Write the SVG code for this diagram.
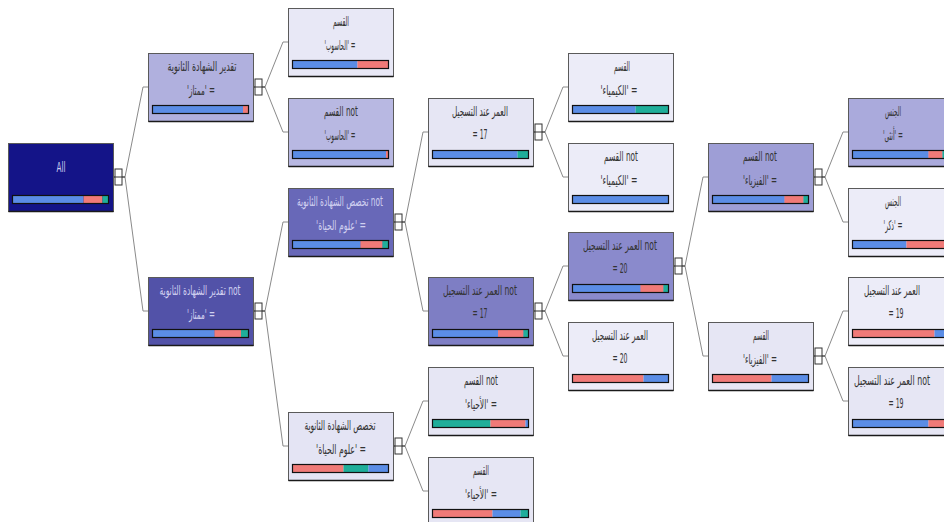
<svg xmlns="http://www.w3.org/2000/svg" width="944" height="522" viewBox="0 0 944 522">
<style>
.bg{fill:#ffffff}
.nd{stroke:#5a5a5a;stroke-width:1}
.sh{stroke:#1a1a1a;stroke-width:1.5}
.t{font-family:"DejaVu Sans Condensed","DejaVu Sans",sans-serif;font-size:13.5px;text-anchor:middle;fill:#333333}
.tl{fill:#d0d0f0}
.bar{fill:none;stroke:#111111;stroke-width:1.2}
.b{fill:#5b8de6}
.r{fill:#f07a78}
.g{fill:#1fae9a}
.cn{fill:none;stroke:#8a8a8a;stroke-width:1}
.tg rect{fill:#ffffff;stroke:#333333;stroke-width:1}
.tg line{stroke:#333333;stroke-width:1}
</style>
<rect class="bg" x="0" y="0" width="944" height="522"/>
<g id="connectors">
<path class="cn" d="M113,177 H125 L143,87 H148 M125,177 L143,311 H148"/>
<path class="cn" d="M253,87 H265 L283,42 H288 M265,87 L283,132 H288"/>
<path class="cn" d="M253,311 H265 L283,222 H288 M265,311 L283,446 H288"/>
<path class="cn" d="M393,222 H405 L423,132 H428 M405,222 L423,311 H428"/>
<path class="cn" d="M393,446 H405 L423,401 H428 M405,446 L423,491 H428"/>
<path class="cn" d="M533,132 H545 L563,87 H568 M545,132 L563,177 H568"/>
<path class="cn" d="M533,311 H545 L563,266 H568 M545,311 L563,356 H568"/>
<path class="cn" d="M673,266 H685 L703,177 H708 M685,266 L703,356 H708"/>
<path class="cn" d="M813,177 H825 L843,132 H848 M825,177 L843,222 H848"/>
<path class="cn" d="M813,356 H825 L843,311 H848 M825,356 L843,401 H848"/>
<g class="tg"><rect x="115" y="169" width="7" height="16"/><line x1="113" y1="177" x2="125" y2="177"/></g>
<g class="tg"><rect x="255" y="79" width="7" height="16"/><line x1="253" y1="87" x2="265" y2="87"/></g>
<g class="tg"><rect x="255" y="303" width="7" height="16"/><line x1="253" y1="311" x2="265" y2="311"/></g>
<g class="tg"><rect x="395" y="214" width="7" height="16"/><line x1="393" y1="222" x2="405" y2="222"/></g>
<g class="tg"><rect x="395" y="438" width="7" height="16"/><line x1="393" y1="446" x2="405" y2="446"/></g>
<g class="tg"><rect x="535" y="124" width="7" height="16"/><line x1="533" y1="132" x2="545" y2="132"/></g>
<g class="tg"><rect x="535" y="303" width="7" height="16"/><line x1="533" y1="311" x2="545" y2="311"/></g>
<g class="tg"><rect x="675" y="258" width="7" height="16"/><line x1="673" y1="266" x2="685" y2="266"/></g>
<g class="tg"><rect x="815" y="169" width="7" height="16"/><line x1="813" y1="177" x2="825" y2="177"/></g>
<g class="tg"><rect x="815" y="348" width="7" height="16"/><line x1="813" y1="356" x2="825" y2="356"/></g>
</g>

<g id="root">
<rect class="nd" x="8.5" y="143.5" width="105" height="68" fill="#141488"/>
<line class="sh" x1="8.5" y1="211.5" x2="113.5" y2="211.5"/>
<text class="t tl" x="61" y="172" textLength="9" lengthAdjust="spacingAndGlyphs">All</text>
<rect class="b" x="13" y="196" width="70.5" height="7"/><rect class="r" x="83.5" y="196" width="19" height="7"/><rect class="g" x="102.5" y="196" width="5.5" height="7"/>
<rect class="bar" x="12.5" y="195.5" width="96" height="8"/>
</g>

<g id="n_mumtaz">
<rect class="nd" x="148.5" y="53.5" width="105" height="68" fill="#b0b0de"/>
<line class="sh" x1="148.5" y1="121.5" x2="253.5" y2="121.5"/>
<text class="t" x="202" y="71" direction="rtl" textLength="69" lengthAdjust="spacingAndGlyphs">تقدير الشهادة الثانوية</text>
<text class="t" x="201" y="95" direction="rtl" textLength="28" lengthAdjust="spacingAndGlyphs">= 'ممتاز'</text>
<rect class="b" x="153" y="106" width="90" height="7"/><rect class="r" x="243" y="106" width="5" height="7"/>
<rect class="bar" x="152.5" y="105.5" width="96" height="8"/>
</g>

<g id="n_not_mumtaz">
<rect class="nd" x="148.5" y="277.5" width="105" height="68" fill="#5252a8"/>
<line class="sh" x1="148.5" y1="345.5" x2="253.5" y2="345.5"/>
<text class="t tl" x="200" y="295" direction="rtl" textLength="81" lengthAdjust="spacingAndGlyphs">not تقدير الشهادة الثانوية</text>
<text class="t tl" x="201" y="319" direction="rtl" textLength="28" lengthAdjust="spacingAndGlyphs">= 'ممتاز'</text>
<rect class="b" x="153" y="330" width="61.5" height="7"/><rect class="r" x="214.5" y="330" width="26.5" height="7"/><rect class="g" x="241" y="330" width="7" height="7"/>
<rect class="bar" x="152.5" y="329.5" width="96" height="8"/>
</g>

<g id="n_hasoob">
<rect class="nd" x="288.5" y="8.5" width="105" height="68" fill="#e8e8f6"/>
<line class="sh" x1="288.5" y1="76.5" x2="393.5" y2="76.5"/>
<text class="t" x="341" y="26" direction="rtl" textLength="16" lengthAdjust="spacingAndGlyphs">القسم</text>
<text class="t" x="340" y="50" direction="rtl" textLength="31" lengthAdjust="spacingAndGlyphs">= 'الحاسوب'</text>
<rect class="b" x="293" y="61" width="64.5" height="7"/><rect class="r" x="357.5" y="61" width="30.5" height="7"/>
<rect class="bar" x="292.5" y="60.5" width="96" height="8"/>
</g>

<g id="n_not_hasoob">
<rect class="nd" x="288.5" y="98.5" width="105" height="68" fill="#b8b8e2"/>
<line class="sh" x1="288.5" y1="166.5" x2="393.5" y2="166.5"/>
<text class="t" x="341" y="116" direction="rtl" textLength="34" lengthAdjust="spacingAndGlyphs">not القسم</text>
<text class="t" x="340" y="140" direction="rtl" textLength="31" lengthAdjust="spacingAndGlyphs">= 'الحاسوب'</text>
<rect class="b" x="293" y="151" width="93" height="7"/><rect class="r" x="386" y="151" width="2" height="7"/>
<rect class="bar" x="292.5" y="150.5" width="96" height="8"/>
</g>

<g id="n_not_takhassus">
<rect class="nd" x="288.5" y="188.5" width="105" height="68" fill="#6868b8"/>
<line class="sh" x1="288.5" y1="256.5" x2="393.5" y2="256.5"/>
<text class="t tl" x="340" y="206" direction="rtl" textLength="86" lengthAdjust="spacingAndGlyphs">not تخصص الشهادة الثانوية</text>
<text class="t tl" x="341" y="230" direction="rtl" textLength="50" lengthAdjust="spacingAndGlyphs">= 'علوم الحياة'</text>
<rect class="b" x="293" y="241" width="67.5" height="7"/><rect class="r" x="360.5" y="241" width="22" height="7"/><rect class="g" x="382.5" y="241" width="5.5" height="7"/>
<rect class="bar" x="292.5" y="240.5" width="96" height="8"/>
</g>

<g id="n_takhassus">
<rect class="nd" x="288.5" y="412.5" width="105" height="68" fill="#e4e4f4"/>
<line class="sh" x1="288.5" y1="480.5" x2="393.5" y2="480.5"/>
<text class="t" x="340" y="430" direction="rtl" textLength="71" lengthAdjust="spacingAndGlyphs">تخصص الشهادة الثانوية</text>
<text class="t" x="341" y="454" direction="rtl" textLength="50" lengthAdjust="spacingAndGlyphs">= 'علوم الحياة'</text>
<rect class="r" x="293" y="465" width="50.5" height="7"/><rect class="g" x="343.5" y="465" width="25" height="7"/><rect class="b" x="368.5" y="465" width="19.5" height="7"/>
<rect class="bar" x="292.5" y="464.5" width="96" height="8"/>
</g>

<g id="n_age17">
<rect class="nd" x="428.5" y="98.5" width="105" height="68" fill="#e6e6f4"/>
<line class="sh" x1="428.5" y1="166.5" x2="533.5" y2="166.5"/>
<text class="t" x="480" y="116" direction="rtl" textLength="56" lengthAdjust="spacingAndGlyphs">العمر عند التسجيل</text>
<text class="t" x="480" y="139" textLength="15" lengthAdjust="spacingAndGlyphs">= 17</text>
<rect class="b" x="433" y="151" width="84.5" height="7"/><rect class="g" x="517.5" y="151" width="10.5" height="7"/>
<rect class="bar" x="432.5" y="150.5" width="96" height="8"/>
</g>

<g id="n_not_age17">
<rect class="nd" x="428.5" y="277.5" width="105" height="68" fill="#7e7ec4"/>
<line class="sh" x1="428.5" y1="345.5" x2="533.5" y2="345.5"/>
<text class="t" x="480" y="295" direction="rtl" textLength="74" lengthAdjust="spacingAndGlyphs">not العمر عند التسجيل</text>
<text class="t" x="480" y="318" textLength="15" lengthAdjust="spacingAndGlyphs">= 17</text>
<rect class="b" x="433" y="330" width="65" height="7"/><rect class="r" x="498" y="330" width="25.5" height="7"/><rect class="g" x="523.5" y="330" width="4.5" height="7"/>
<rect class="bar" x="432.5" y="329.5" width="96" height="8"/>
</g>

<g id="n_not_ahyaa">
<rect class="nd" x="428.5" y="367.5" width="105" height="68" fill="#e6e6f4"/>
<line class="sh" x1="428.5" y1="435.5" x2="533.5" y2="435.5"/>
<text class="t" x="481" y="385" direction="rtl" textLength="34" lengthAdjust="spacingAndGlyphs">not القسم</text>
<text class="t" x="481" y="409" direction="rtl" textLength="32" lengthAdjust="spacingAndGlyphs">= 'الأحياء'</text>
<rect class="g" x="433" y="420" width="57.5" height="7"/><rect class="r" x="490.5" y="420" width="35" height="7"/><rect class="b" x="525.5" y="420" width="2.5" height="7"/>
<rect class="bar" x="432.5" y="419.5" width="96" height="8"/>
</g>

<g id="n_ahyaa">
<rect class="nd" x="428.5" y="457.5" width="105" height="68" fill="#e6e6f4"/>
<line class="sh" x1="428.5" y1="525.5" x2="533.5" y2="525.5"/>
<text class="t" x="481" y="475" direction="rtl" textLength="16" lengthAdjust="spacingAndGlyphs">القسم</text>
<text class="t" x="481" y="499" direction="rtl" textLength="32" lengthAdjust="spacingAndGlyphs">= 'الأحياء'</text>
<rect class="r" x="433" y="510" width="59.5" height="7"/><rect class="b" x="492.5" y="510" width="28" height="7"/><rect class="g" x="520.5" y="510" width="7.5" height="7"/>
<rect class="bar" x="432.5" y="509.5" width="96" height="8"/>
</g>

<g id="n_kimyaa">
<rect class="nd" x="568.5" y="53.5" width="105" height="68" fill="#ececf8"/>
<line class="sh" x1="568.5" y1="121.5" x2="673.5" y2="121.5"/>
<text class="t" x="622" y="71" direction="rtl" textLength="16" lengthAdjust="spacingAndGlyphs">القسم</text>
<text class="t" x="619" y="95" direction="rtl" textLength="37" lengthAdjust="spacingAndGlyphs">= 'الكيمياء'</text>
<rect class="b" x="573" y="106" width="62.5" height="7"/><rect class="g" x="635.5" y="106" width="32.5" height="7"/>
<rect class="bar" x="572.5" y="105.5" width="96" height="8"/>
</g>

<g id="n_not_kimyaa">
<rect class="nd" x="568.5" y="143.5" width="105" height="68" fill="#ececf8"/>
<line class="sh" x1="568.5" y1="211.5" x2="673.5" y2="211.5"/>
<text class="t" x="621" y="161" direction="rtl" textLength="34" lengthAdjust="spacingAndGlyphs">not القسم</text>
<text class="t" x="619" y="185" direction="rtl" textLength="37" lengthAdjust="spacingAndGlyphs">= 'الكيمياء'</text>
<rect class="b" x="573" y="196" width="95" height="7"/>
<rect class="bar" x="572.5" y="195.5" width="96" height="8"/>
</g>

<g id="n_not_age20">
<rect class="nd" x="568.5" y="232.5" width="105" height="68" fill="#8a8acc"/>
<line class="sh" x1="568.5" y1="300.5" x2="673.5" y2="300.5"/>
<text class="t" x="620" y="250" direction="rtl" textLength="74" lengthAdjust="spacingAndGlyphs">not العمر عند التسجيل</text>
<text class="t" x="620" y="273" textLength="15" lengthAdjust="spacingAndGlyphs">= 20</text>
<rect class="b" x="573" y="285" width="67.5" height="7"/><rect class="r" x="640.5" y="285" width="23" height="7"/><rect class="g" x="663.5" y="285" width="4.5" height="7"/>
<rect class="bar" x="572.5" y="284.5" width="96" height="8"/>
</g>

<g id="n_age20">
<rect class="nd" x="568.5" y="322.5" width="105" height="68" fill="#ececf8"/>
<line class="sh" x1="568.5" y1="390.5" x2="673.5" y2="390.5"/>
<text class="t" x="620" y="340" direction="rtl" textLength="56" lengthAdjust="spacingAndGlyphs">العمر عند التسجيل</text>
<text class="t" x="620" y="363" textLength="15" lengthAdjust="spacingAndGlyphs">= 20</text>
<rect class="r" x="573" y="375" width="70.5" height="7"/><rect class="b" x="643.5" y="375" width="24.5" height="7"/>
<rect class="bar" x="572.5" y="374.5" width="96" height="8"/>
</g>

<g id="n_not_fizyaa">
<rect class="nd" x="708.5" y="143.5" width="105" height="68" fill="#9e9ed6"/>
<line class="sh" x1="708.5" y1="211.5" x2="813.5" y2="211.5"/>
<text class="t" x="760" y="161" direction="rtl" textLength="34" lengthAdjust="spacingAndGlyphs">not القسم</text>
<text class="t" x="760" y="185" direction="rtl" textLength="34" lengthAdjust="spacingAndGlyphs">= 'الفيزياء'</text>
<rect class="b" x="713" y="196" width="71.5" height="7"/><rect class="r" x="784.5" y="196" width="19" height="7"/><rect class="g" x="803.5" y="196" width="4.5" height="7"/>
<rect class="bar" x="712.5" y="195.5" width="96" height="8"/>
</g>

<g id="n_fizyaa">
<rect class="nd" x="708.5" y="322.5" width="105" height="68" fill="#e6e6f4"/>
<line class="sh" x1="708.5" y1="390.5" x2="813.5" y2="390.5"/>
<text class="t" x="761" y="340" direction="rtl" textLength="16" lengthAdjust="spacingAndGlyphs">القسم</text>
<text class="t" x="760" y="364" direction="rtl" textLength="34" lengthAdjust="spacingAndGlyphs">= 'الفيزياء'</text>
<rect class="r" x="713" y="375" width="58.5" height="7"/><rect class="b" x="771.5" y="375" width="36.5" height="7"/>
<rect class="bar" x="712.5" y="374.5" width="96" height="8"/>
</g>

<g id="n_untha">
<rect class="nd" x="848.5" y="98.5" width="105" height="68" fill="#aaaadc"/>
<line class="sh" x1="848.5" y1="166.5" x2="953.5" y2="166.5"/>
<text class="t" x="893" y="116" direction="rtl" textLength="16" lengthAdjust="spacingAndGlyphs">الجنس</text>
<text class="t" x="893" y="140" direction="rtl" textLength="20" lengthAdjust="spacingAndGlyphs">= 'أنثى'</text>
<rect class="b" x="853" y="151" width="75.5" height="7"/><rect class="r" x="928.5" y="151" width="14" height="7"/><rect class="g" x="942.5" y="151" width="5.5" height="7"/>
<rect class="bar" x="852.5" y="150.5" width="96" height="8"/>
</g>

<g id="n_thakar">
<rect class="nd" x="848.5" y="188.5" width="105" height="68" fill="#ececf8"/>
<line class="sh" x1="848.5" y1="256.5" x2="953.5" y2="256.5"/>
<text class="t" x="893" y="206" direction="rtl" textLength="16" lengthAdjust="spacingAndGlyphs">الجنس</text>
<text class="t" x="893" y="230" direction="rtl" textLength="19" lengthAdjust="spacingAndGlyphs">= 'ذكر'</text>
<rect class="b" x="853" y="241" width="53.5" height="7"/><rect class="r" x="906.5" y="241" width="41.5" height="7"/>
<rect class="bar" x="852.5" y="240.5" width="96" height="8"/>
</g>

<g id="n_age19">
<rect class="nd" x="848.5" y="277.5" width="105" height="68" fill="#ececf8"/>
<line class="sh" x1="848.5" y1="345.5" x2="953.5" y2="345.5"/>
<text class="t" transform="translate(892,295) scale(0.62,1)" x="0" y="0" direction="rtl" textLength="90" lengthAdjust="spacingAndGlyphs">العمر عند التسجيل</text>
<text class="t" x="896" y="318" textLength="15" lengthAdjust="spacingAndGlyphs">= 19</text>
<rect class="r" x="853" y="330" width="81.5" height="7"/><rect class="b" x="934.5" y="330" width="13.5" height="7"/>
<rect class="bar" x="852.5" y="329.5" width="96" height="8"/>
</g>

<g id="n_not_age19">
<rect class="nd" x="848.5" y="367.5" width="105" height="68" fill="#e6e6f4"/>
<line class="sh" x1="848.5" y1="435.5" x2="953.5" y2="435.5"/>
<text class="t" transform="translate(892,385) scale(0.65,1)" x="0" y="0" direction="rtl" textLength="117" lengthAdjust="spacingAndGlyphs">not العمر عند التسجيل</text>
<text class="t" x="896" y="408" textLength="15" lengthAdjust="spacingAndGlyphs">= 19</text>
<rect class="b" x="853" y="420" width="75.5" height="7"/><rect class="r" x="928.5" y="420" width="19.5" height="7"/>
<rect class="bar" x="852.5" y="419.5" width="96" height="8"/>
</g>
</svg>
